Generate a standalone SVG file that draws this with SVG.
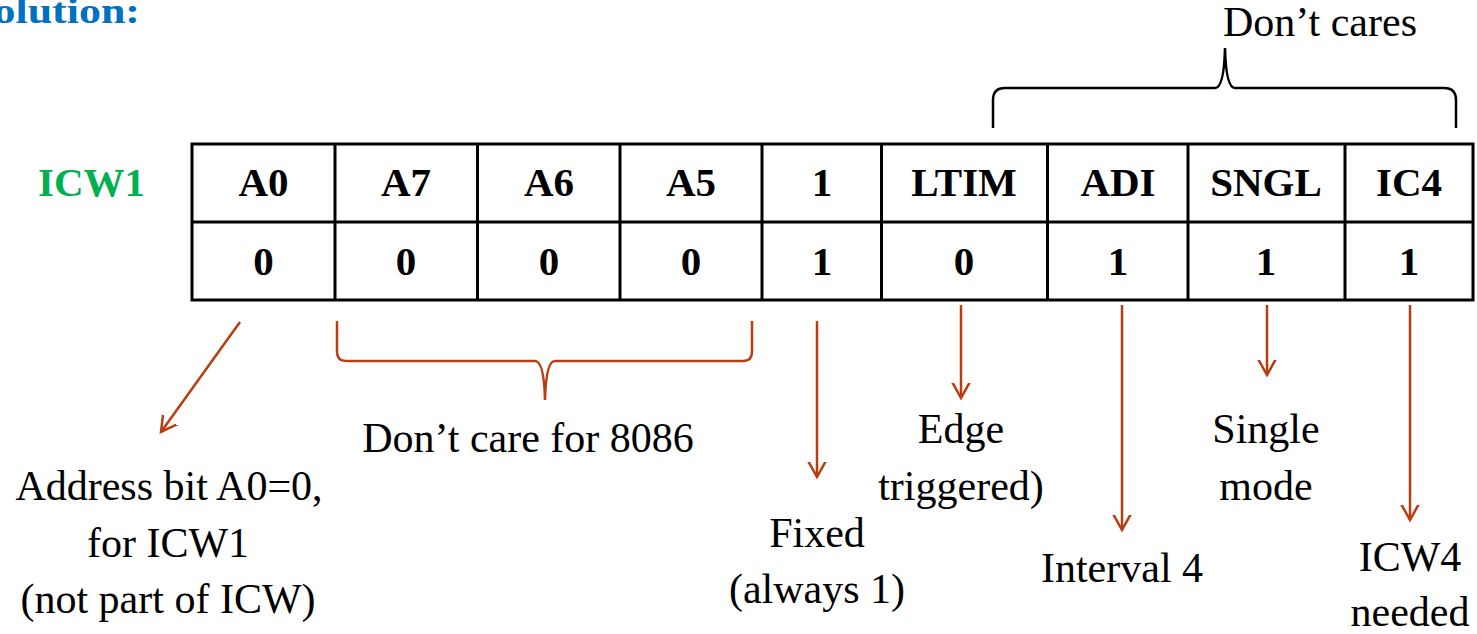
<svg xmlns="http://www.w3.org/2000/svg" width="1477" height="634" viewBox="0 0 1477 634">
<style>
.cell{fill:#fff;stroke:#000;stroke-width:3}
.th{font-family:"Liberation Serif",serif;font-weight:bold;font-size:41px;text-anchor:middle;fill:#000}
.lbl{font-family:"Liberation Serif",serif;font-size:42px;text-anchor:middle;fill:#000}
.arr{stroke:#B83D10;stroke-width:2.5;fill:none;marker-end:url(#ah)}
.brace{fill:none;stroke-width:2.5}
</style>
<defs>
<marker id="ah" markerUnits="userSpaceOnUse" markerWidth="30" markerHeight="30" viewBox="-15 -15 30 30" refX="0" refY="0" orient="auto">
<path d="M-18,-10 L0,0 L-18,10" fill="none" stroke="#B83D10" stroke-width="2.5"/>
</marker>
</defs>
<text x="-31" y="23" textLength="171" lengthAdjust="spacingAndGlyphs" font-family="Liberation Serif, serif" font-weight="bold" font-size="36" fill="#0070C0">Solution:</text>
<text x="38" y="196" textLength="107" lengthAdjust="spacingAndGlyphs" font-family="Liberation Serif, serif" font-weight="bold" font-size="40" fill="#00B050">ICW1</text>
<g id="table">
<rect class="cell" x="192" y="144" width="1281" height="156"/>
<line x1="192" y1="222" x2="1473" y2="222" stroke="#000" stroke-width="3"/>
<g stroke="#000" stroke-width="3">
<line x1="335" y1="144" x2="335" y2="300"/>
<line x1="477.5" y1="144" x2="477.5" y2="300"/>
<line x1="620" y1="144" x2="620" y2="300"/>
<line x1="762" y1="144" x2="762" y2="300"/>
<line x1="881.5" y1="144" x2="881.5" y2="300"/>
<line x1="1047.5" y1="144" x2="1047.5" y2="300"/>
<line x1="1188" y1="144" x2="1188" y2="300"/>
<line x1="1345" y1="144" x2="1345" y2="300"/>
</g>
<text class="th" x="263.5" y="196">A0</text>
<text class="th" x="406" y="196">A7</text>
<text class="th" x="549" y="196">A6</text>
<text class="th" x="691" y="196">A5</text>
<text class="th" x="822" y="196">1</text>
<text class="th" x="964" y="196">LTIM</text>
<text class="th" x="1118" y="196">ADI</text>
<text class="th" x="1266" y="196">SNGL</text>
<text class="th" x="1409" y="196">IC4</text>
<text class="th" x="263.5" y="275">0</text>
<text class="th" x="406" y="275">0</text>
<text class="th" x="549" y="275">0</text>
<text class="th" x="691" y="275">0</text>
<text class="th" x="822" y="275">1</text>
<text class="th" x="964" y="275">0</text>
<text class="th" x="1118" y="275">1</text>
<text class="th" x="1266" y="275">1</text>
<text class="th" x="1409" y="275">1</text>
</g>
<g id="braces">
<path class="brace" stroke="#000" d="M993,128 L993,100 Q993,88 1005,88 L1215,88 Q1224,88 1225,48 Q1226,88 1235,88 L1444,88 Q1456,88 1456,100 L1456,128"/>
<path class="brace" stroke="#B83D10" d="M337,321 L337,352 Q337,361 346,361 L535,361 Q544,361 545,400 Q546,361 555,361 L743,361 Q752,361 752,352 L752,321"/>
</g>
<g id="connectors">
<line class="arr" x1="240" y1="322" x2="161" y2="432"/>
<line class="arr" x1="817" y1="321" x2="817" y2="477"/>
<line class="arr" x1="961" y1="305" x2="961" y2="398"/>
<line class="arr" x1="1122" y1="305" x2="1122" y2="530"/>
<line class="arr" x1="1267" y1="305" x2="1267" y2="375"/>
<line class="arr" x1="1410" y1="305" x2="1410" y2="520"/>
</g>
<g id="labels">
<text class="lbl" x="1320" y="36">Don’t cares</text>
<text class="lbl" x="528" y="452">Don’t care for 8086</text>
<text class="lbl" x="169" y="500">Address bit A0=0,</text>
<text class="lbl" x="168" y="557">for ICW1</text>
<text class="lbl" x="168" y="613">(not part of ICW)</text>
<text class="lbl" x="817" y="547">Fixed</text>
<text class="lbl" x="817" y="603">(always 1)</text>
<text class="lbl" x="961" y="443">Edge</text>
<text class="lbl" x="961" y="500">triggered)</text>
<text class="lbl" x="1122" y="582">Interval 4</text>
<text class="lbl" x="1266" y="443">Single</text>
<text class="lbl" x="1266" y="500">mode</text>
<text class="lbl" x="1410" y="571">ICW4</text>
<text class="lbl" x="1410" y="626">needed</text>
</g>
</svg>
